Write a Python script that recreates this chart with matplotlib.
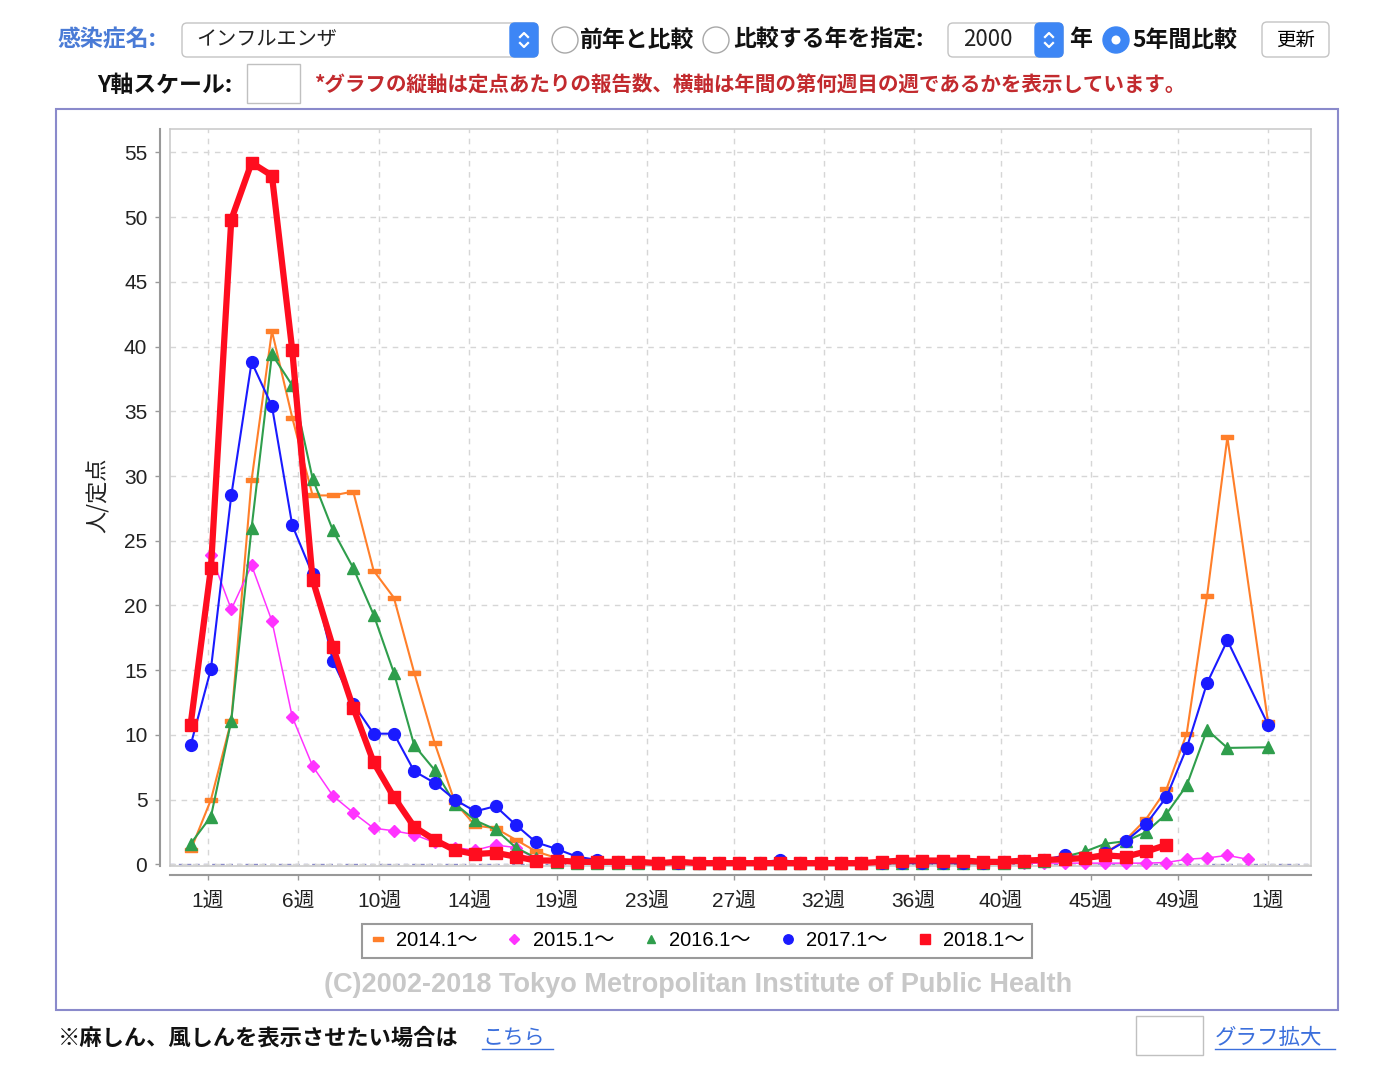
import numpy as np
import pandas as pd
import matplotlib
matplotlib.use("Agg")
import matplotlib.pyplot as plt
from matplotlib import font_manager
from matplotlib.patches import Rectangle, FancyBboxPatch, Circle
from matplotlib.lines import Line2D
from matplotlib.path import Path

# フォント
installed = {f.name for f in font_manager.fontManager.ttflist}
narrow = 'Liberation Sans Narrow' if 'Liberation Sans Narrow' in installed else 'Liberation Sans'
chart_font = [narrow, 'Noto Sans CJK JP']
jp_font = ['Noto Sans CJK JP', 'DejaVu Sans']
plt.rcParams['font.family'] = chart_font

# データ (定点あたり報告数)  週スロット 0..53, 53 = 翌年第1週
orange_2014 = [1.1, 5.0, 11.1, 29.7, 41.2, 34.5, 28.5, 28.5, 28.8, 22.7,
               20.6, 14.8, 9.4, 4.8, 3.0, 2.8, 1.9, 1.0, 0.5, 0.3,
               0.2, 0.2, 0.1, 0.1, 0.1, 0.1, 0.1, 0.1, 0.1, 0.1,
               0.1, 0.1, 0.1, 0.1, 0.1, 0.1, 0.1, 0.1, 0.1, 0.1,
               0.1, 0.2, 0.3, 0.4, 0.6, 0.9, 1.9, 3.5, 5.8, 10.1,
               20.7, 33.0, None, 11.0]
magenta_2015 = [10.8, 23.9, 19.7, 23.1, 18.8, 11.4, 7.6, 5.3, 4.0, 2.8,
                2.6, 2.3, 1.7, 1.3, 1.1, 1.5, 1.3, 0.4, 0.2, 0.1,
                0.1, 0.1, 0.1, 0.1, 0.1, 0.1, 0.1, 0.1, 0.1, 0.1,
                0.1, 0.1, 0.1, 0.1, 0.1, 0.1, 0.1, 0.1, 0.1, 0.1,
                0.1, 0.1, 0.1, 0.1, 0.1, 0.1, 0.1, 0.1, 0.15, 0.4,
                0.5, 0.7, 0.4, None]
green_2016 = [1.6, 3.7, 11.1, 26.0, 39.4, 37.0, 29.8, 25.8, 22.9, 19.3,
              14.8, 9.2, 7.3, 4.7, 3.4, 2.7, 1.3, 0.5, 0.2, 0.1,
              0.1, 0.1, 0.1, 0.1, 0.1, 0.1, 0.1, 0.1, 0.1, 0.1,
              0.1, 0.1, 0.1, 0.1, 0.1, 0.1, 0.1, 0.1, 0.1, 0.1,
              0.1, 0.2, 0.3, 0.6, 1.0, 1.6, 1.8, 2.5, 3.9, 6.1,
              10.4, 9.0, None, 9.05]
blue_2017 = [9.2, 15.1, 28.5, 38.8, 35.4, 26.2, 22.4, 15.7, 12.4, 10.1,
             10.1, 7.2, 6.3, 5.0, 4.1, 4.5, 3.05, 1.7, 1.2, 0.6,
             0.35, 0.2, 0.2, 0.15, 0.1, 0.15, 0.1, 0.1, 0.15, 0.35,
             0.15, 0.1, 0.1, 0.1, 0.1, 0.1, 0.1, 0.1, 0.1, 0.1,
             0.2, 0.3, 0.35, 0.7, 0.5, 0.9, 1.8, 3.1, 5.2, 9.0,
             14.0, 17.3, None, 10.8]
red_2018 = [10.8, 22.9, 49.8, 54.2, 53.2, 39.7, 22.0, 16.8, 12.1, 7.9,
            5.2, 2.9, 1.9, 1.1, 0.8, 0.9, 0.6, 0.3, 0.3, 0.2,
            0.2, 0.2, 0.2, 0.1, 0.2, 0.1, 0.1, 0.1, 0.1, 0.1,
            0.1, 0.1, 0.1, 0.1, 0.2, 0.3, 0.3, 0.3, 0.3, 0.2,
            0.2, 0.3, 0.35, 0.4, 0.5, 0.7, 0.6, 1.0, 1.5, None,
            None, None, None, None]

series_labels = ['2014.1～', '2015.1～', '2016.1～', '2017.1～', '2018.1～']
x_tick_labels = ['1週', '6週', '10週', '14週', '19週', '23週', '27週',
                 '32週', '36週', '40週', '45週', '49週', '1週']
y_ticks = list(range(0, 56, 5))

# 週スロット -> 日数 (1月1日 = 0)
def week_day(i):
    return -6 + 7 * i

month_starts = pd.date_range('2018-01-01', periods=13, freq='MS')
tick_days = [(d - month_starts[0]).days for d in month_starts]

def xy(values):
    pts = [(week_day(i), v) for i, v in enumerate(values) if v is not None]
    return [p[0] for p in pts], [p[1] for p in pts]

W, H = 1386, 1076
fig = plt.figure(figsize=(W / 100, H / 100), dpi=100)
fig.patch.set_facecolor('white')

# ページ部品 (ピクセル座標)
bg = fig.add_axes([0, 0, 1, 1], zorder=0)
bg.set_xlim(0, W)
bg.set_ylim(H, 0)
bg.axis('off')

blue_ui = '#3d86f5'

def select_box(x0, x1, y0, y1, text, tx, fs):
    bg.add_patch(FancyBboxPatch((x0, y0), x1 - x0, y1 - y0,
                                boxstyle='round,pad=0,rounding_size=5',
                                fc='white', ec='#c4c4c4', lw=1))
    bg.add_patch(FancyBboxPatch((x1 - 28, y0), 28, y1 - y0,
                                boxstyle='round,pad=0,rounding_size=5',
                                fc=blue_ui, ec=blue_ui, lw=1))
    cx, cy = x1 - 14, (y0 + y1) / 2
    bg.plot([cx - 4, cx, cx + 4], [cy - 3, cy - 7, cy - 3], color='white', lw=1.6)
    bg.plot([cx - 4, cx, cx + 4], [cy + 3, cy + 7, cy + 3], color='white', lw=1.6)
    bg.text(tx, cy, text, fontsize=fs, va='center', ha='left',
            color='#222222', family=jp_font)

def radio(cx, cy, on=False):
    if on:
        bg.add_patch(Circle((cx, cy), 13, fc=blue_ui, ec=blue_ui, lw=1))
        bg.add_patch(Circle((cx, cy), 4.5, fc='white', ec='white', lw=0))
    else:
        bg.add_patch(Circle((cx, cy), 13, fc='white', ec='#a8a8a8', lw=1))

lab_kw = dict(fontsize=16.5, va='center', family=jp_font, weight='bold', color='#111111')
bg.text(58, 40, '感染症名:', fontsize=16.5, weight='bold', color='#4a7bd6',
        va='center', family=jp_font)
select_box(182, 538, 23, 57, 'インフルエンザ', 196, 14.5)
radio(565, 40)
bg.text(580, 40, '前年と比較', **lab_kw)
radio(716, 40)
bg.text(733, 40, '比較する年を指定:', **lab_kw)
select_box(948, 1063, 23, 57, '2000', 963, 16)
bg.text(1069, 40, '年', **lab_kw)
radio(1116, 40, on=True)
bg.text(1132, 40, '5年間比較', **lab_kw)
bg.add_patch(FancyBboxPatch((1262, 22), 67, 35, boxstyle='round,pad=0,rounding_size=5',
                            fc='white', ec='#c4c4c4', lw=1))
bg.text(1296, 40, '更新', fontsize=14, va='center', ha='center', family=jp_font)

bg.text(97, 85, 'Y軸スケール:', **lab_kw)
bg.add_patch(Rectangle((247, 64), 53, 39, fc='white', ec='#c0c0c0', lw=1))
bg.text(315, 85, '*グラフの縦軸は定点あたりの報告数、横軸は年間の第何週目の週であるかを表示しています。',
        fontsize=14.8, weight='bold', color='#c22a2e', va='center', family=jp_font)

bg.add_patch(Rectangle((56, 109), 1282, 901, fc='white', ec='#8a8acb', lw=1.5))
bg.text(98, 495, '人/定点', fontsize=16, rotation=90, va='center', ha='center',
        family=jp_font, color='#222222')
bg.text(698, 985, '(C)2002-2018 Tokyo Metropolitan Institute of Public Health',
        fontsize=19.5, weight='bold', color='#c8c8c8', va='center', ha='center',
        family=chart_font)

bg.text(58, 1038, '※麻しん、風しんを表示させたい場合は', fontsize=16, va='center',
        family=jp_font, weight='bold', color='#111111')
bg.text(482, 1038, 'こちら', fontsize=15, va='center', color='#3b6fdc', family=jp_font)
bg.plot([482, 553], [1049, 1049], color='#3b6fdc', lw=1)
bg.add_patch(Rectangle((1136, 1016), 67, 39, fc='white', ec='#c0c0c0', lw=1))
bg.text(1215, 1038, 'グラフ拡大', fontsize=15.5, va='center', color='#3b6fdc', family=jp_font)
bg.plot([1215, 1335], [1049, 1049], color='#3b6fdc', lw=1)

# グラフ
ax = fig.add_axes([170 / W, (H - 866) / H, (1311 - 170) / W, (866 - 129) / H], zorder=2)
ax.set_xlim(-13.1, 379.8)
ax.set_ylim(-0.12, 56.8)

ax.grid(True, color='#d6d6d6', ls=(0, (4, 4)), lw=1)
ax.axhline(0, color='#8c8cc8', ls=(0, (3, 3)), lw=1, zorder=1)

bar = Path([(-1, -0.35), (1, -0.35), (1, 0.35), (-1, 0.35), (-1, -0.35)],
           [Path.MOVETO, Path.LINETO, Path.LINETO, Path.LINETO, Path.CLOSEPOLY])

styles = [
    (orange_2014, dict(color='#ff7f2a', lw=1.5, marker=bar, ms=9)),
    (magenta_2015, dict(color='#ff33ff', lw=1.1, marker='D', ms=6)),
    (green_2016, dict(color='#2f9e4c', lw=1.5, marker='^', ms=8)),
    (blue_2017, dict(color='#1a1aff', lw=1.5, marker='o', ms=8.5)),
    (red_2018, dict(color='#ff0d1f', lw=4.5, marker='s', ms=9)),
]
for vals, st in styles:
    xs, ys = xy(vals)
    ax.plot(xs, ys, mec=st['color'], mfc=st['color'], zorder=3, clip_on=False, **st)

ax.set_xticks(tick_days)
ax.set_xticklabels(x_tick_labels)
ax.set_yticks(y_ticks)

ax.spines['left'].set_position(('outward', 7.2))
ax.spines['bottom'].set_position(('outward', 6.5))
for s in ['left', 'bottom']:
    ax.spines[s].set_color('#999999')
    ax.spines[s].set_linewidth(1.5)
for s in ['top', 'right']:
    ax.spines[s].set_color('#c8c8c8')
    ax.spines[s].set_linewidth(1.1)
ax.plot([0, 0], [0, 1], transform=ax.transAxes, color='#c8c8c8', lw=1.1, clip_on=False)
ax.plot([0, 1], [0, 0], transform=ax.transAxes, color='#c8c8c8', lw=1.1, clip_on=False)
ax.tick_params(axis='both', direction='out', length=3.6, color='#999999', width=1,
               labelsize=15, labelcolor='#222222')
ax.tick_params(axis='y', pad=5.5)
ax.tick_params(axis='x', pad=8.5)

# 凡例
handles = [Line2D([], [], ls='none', marker=st['marker'], color=st['color'],
                  ms=st['ms'] * 0.8) for _, st in styles]
leg = fig.legend(handles, series_labels, loc='center', ncol=5,
                 bbox_to_anchor=(697 / W, 1 - 941 / H), frameon=True, fancybox=False,
                 edgecolor='#9a9a9a', framealpha=1, handlelength=0.8,
                 handletextpad=0.5, columnspacing=1.45, borderpad=0.35,
                 prop=font_manager.FontProperties(family=chart_font, size=14.5))
leg.get_frame().set_linewidth(1.5)

fig.savefig('out.png', dpi=100)
